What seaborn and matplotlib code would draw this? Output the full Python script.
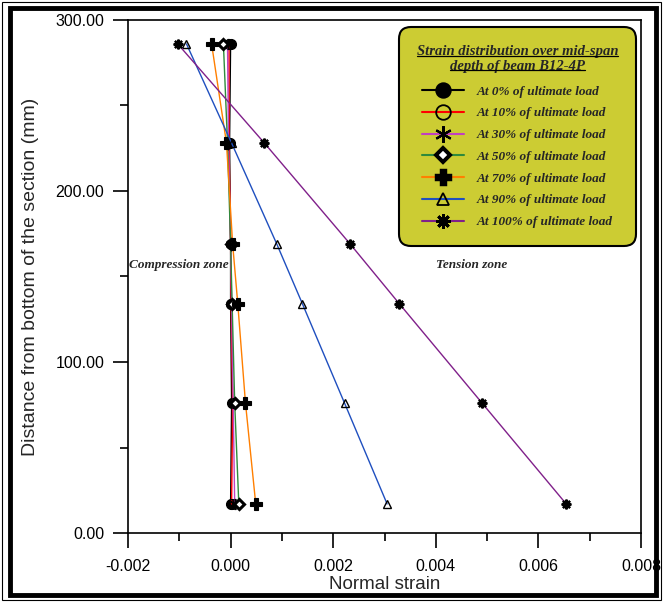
"""Strain distribution over mid-span depth of beam B12-4P."""

import matplotlib.pyplot as plt
import numpy as np
import pandas as pd
import seaborn as sns
from matplotlib.lines import Line2D
from matplotlib.patches import Rectangle
from matplotlib.ticker import FormatStrFormatter, MultipleLocator

# depth positions of the gauges (mm from bottom)
DEPTH = [17, 76, 134, 169, 228, 286]

LOAD_LABELS = [
    "At 0% of ultimate load",
    "At 10% of ultimate load",
    "At 30% of ultimate load",
    "At 50% of ultimate load",
    "At 70% of ultimate load",
    "At 90% of ultimate load",
    "At 100% of ultimate load",
]

STRAIN_0 = [0.0, 0.00002, 0.0, 0.0, -0.00002, 0.0]
STRAIN_10 = [0.00002, 0.00004, 0.00001, 0.0, -0.00003, -0.00003]
STRAIN_30 = [0.00008, 0.00005, 0.00002, 0.0, -0.00004, -0.00006]
STRAIN_50 = [0.00016, 0.00008, 0.00003, 0.0, -0.00006, -0.00014]
STRAIN_70 = [0.00049, 0.00029, 0.00014, 0.00004, -0.00008, -0.00037]
STRAIN_90 = [0.00305, 0.00222, 0.0014, 0.0009, 0.00002, -0.00086]
STRAIN_100 = [0.00654, 0.0049, 0.00329, 0.00233, 0.00066, -0.00103]

SERIES = [STRAIN_0, STRAIN_10, STRAIN_30, STRAIN_50, STRAIN_70, STRAIN_90, STRAIN_100]

COLORS = ["#000000", "#ff0000", "#c040c0", "#2f8a3c", "#ff7f00", "#1f4fbf", "#80208a"]
MARKERS = ["o", "o", (6, 2, 0), "D", "P", "^", (8, 2, 0)]
MARKER_FACE = ["black", "none", "black", "white", "black", "none", "black"]
MARKER_SIZE = [7, 7, 8, 5, 8, 6, 7]
MARKER_EDGE_W = [1.0, 1.0, 1.2, 2.2, 0.8, 1.0, 1.6]

LEGEND_BG = "#cccc33"
SERIF_BI = dict(family="Liberation Serif", style="italic", weight="bold")


def main():
    sns.set_theme(style="ticks")
    plt.rcParams.update({
        "font.family": "Liberation Sans",
        "axes.linewidth": 1.2,
        "xtick.major.size": 11,
        "ytick.major.size": 11,
        "xtick.minor.size": 5.5,
        "ytick.minor.size": 5.5,
        "xtick.major.width": 1.2,
        "ytick.major.width": 1.2,
        "xtick.minor.width": 1.2,
        "ytick.minor.width": 1.2,
        "xtick.color": "black",
        "ytick.color": "black",
        "axes.edgecolor": "black",
    })

    fig = plt.figure(figsize=(6.63, 6.02), dpi=100)
    ax = fig.add_axes([0.193, 0.1146, 0.774, 0.8522])

    for label, strain, color, marker, face, size, mew in zip(
        LOAD_LABELS, SERIES, COLORS, MARKERS, MARKER_FACE, MARKER_SIZE, MARKER_EDGE_W
    ):
        frame = pd.DataFrame({"strain": strain, "depth": DEPTH})
        sns.lineplot(
            data=frame, x="strain", y="depth", sort=False, estimator=None,
            color=color, linewidth=1.0, marker=marker, markersize=size,
            markerfacecolor=face, markeredgecolor="black", markeredgewidth=mew,
            ax=ax, label=label,
        )

    ax.set_xlim(-0.002, 0.008)
    ax.set_ylim(0, 300)
    ax.xaxis.set_major_locator(MultipleLocator(0.002))
    ax.xaxis.set_minor_locator(MultipleLocator(0.001))
    ax.yaxis.set_major_locator(MultipleLocator(100))
    ax.yaxis.set_minor_locator(MultipleLocator(50))
    ax.xaxis.set_major_formatter(FormatStrFormatter("%.3f"))
    ax.yaxis.set_major_formatter(FormatStrFormatter("%.2f"))
    ax.tick_params(axis="both", which="both", direction="out", labelsize=11.5,
                   top=False, right=False)
    ax.tick_params(axis="x", pad=8)
    ax.tick_params(axis="y", pad=6)
    ax.set_xlabel("Normal strain", fontsize=13.5, labelpad=1.5)
    ax.set_ylabel("Distance from bottom of the section (mm)", fontsize=14, labelpad=12)

    ax.text(-0.00198, 157, "Compression zone", fontsize=9.5, ha="left", va="center", **SERIF_BI)
    ax.text(0.00401, 157, "Tension zone", fontsize=9.5, ha="left", va="center", **SERIF_BI)

    handles = [
        Line2D([], [], color=c, lw=1.5, marker=m, markersize=s * 1.5,
               markerfacecolor=f, markeredgecolor="black", markeredgewidth=w * 1.3)
        for c, m, f, s, w in zip(COLORS, MARKERS, MARKER_FACE, MARKER_SIZE, MARKER_EDGE_W)
    ]
    title = "Strain distribution over mid-span\ndepth of beam B12-4P"
    leg = ax.legend(
        handles, LOAD_LABELS, loc="upper right", bbox_to_anchor=(0.99, 0.986),
        prop=dict(SERIF_BI, size=9.5), title=title,
        title_fontproperties=dict(SERIF_BI, size=10.5),
        fancybox=True, framealpha=1, facecolor=LEGEND_BG, edgecolor="black",
        handlelength=3.2, handletextpad=1.0, labelspacing=0.72,
        borderpad=1.35, borderaxespad=0,
    )
    leg.get_frame().set_linewidth(1.5)
    leg.get_frame().set_boxstyle("round,pad=0,rounding_size=0.9")
    leg.get_title().set_multialignment("center")
    leg._legend_box.sep = 9

    # underline each line of the legend title
    fig.canvas.draw()
    renderer = fig.canvas.get_renderer()
    title_text = leg.get_title()
    tb = title_text.get_window_extent(renderer)
    inv = fig.transFigure.inverted()
    lines = title.split("\n")
    line_h = tb.height / len(lines)
    for i, line in enumerate(lines):
        probe = fig.text(0, 0, line, fontproperties=title_text.get_fontproperties())
        w = probe.get_window_extent(renderer).width
        probe.remove()
        cx = (tb.x0 + tb.x1) / 2
        y = tb.y1 - (i + 1) * line_h + 3
        (x0, y0), (x1, _) = inv.transform([(cx - w / 2, y), (cx + w / 2, y)])
        fig.add_artist(Line2D([x0, x1], [y0, y0], color="black", lw=0.9,
                              transform=fig.transFigure))

    # double frame around the figure
    W, H = 663, 602
    fig.add_artist(Rectangle((2 / W, 2 / H), 1 - 4 / W, 1 - 4 / H, fill=False,
                             edgecolor="black", lw=0.8, transform=fig.transFigure))
    fig.add_artist(Rectangle((10 / W, 7 / H), 1 - 17 / W, 1 - 15 / H, fill=False,
                             edgecolor="black", lw=3.5, transform=fig.transFigure))

    fig.savefig("out.png", dpi=100, facecolor="white")


if __name__ == "__main__":
    main()
